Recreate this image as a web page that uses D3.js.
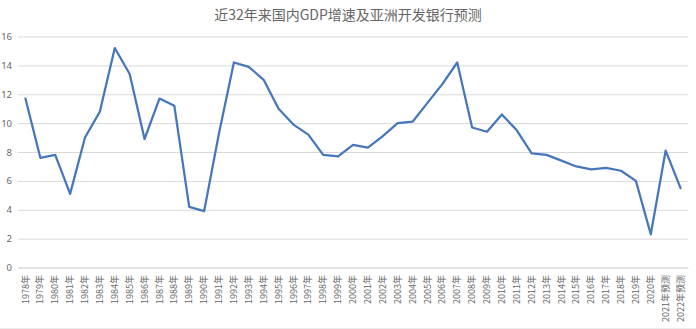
<!DOCTYPE html>
<html><head><meta charset="utf-8">
<script src="https://cdn.jsdelivr.net/npm/d3@7"></script>
<style>body{margin:0;background:#fff}svg{display:block}</style>
</head><body>
<svg id="c" width="696" height="329"></svg>
<script>
const title = "近32年来国内GDP增速及亚洲开发银行预测";
const categories = ["1978年","1979年","1980年","1981年","1982年","1983年","1984年","1985年","1986年","1987年","1988年","1989年","1990年","1991年","1992年","1993年","1994年","1995年","1996年","1997年","1998年","1999年","2000年","2001年","2002年","2003年","2004年","2005年","2006年","2007年","2008年","2009年","2010年","2011年","2012年","2013年","2014年","2015年","2016年","2017年","2018年","2019年","2020年","2021年预测","2022年预测"];
const gdpGrowth = [11.7,7.6,7.8,5.1,9.0,10.8,15.2,13.4,8.9,11.7,11.2,4.2,3.9,9.3,14.2,13.9,13.0,11.0,9.9,9.2,7.8,7.7,8.5,8.3,9.1,10.0,10.1,11.4,12.7,14.2,9.7,9.4,10.6,9.5,7.9,7.8,7.4,7.0,6.8,6.9,6.7,6.0,2.3,8.1,5.5];
const yTicks = [0,2,4,6,8,10,12,14,16];

const svg = d3.select("#c");
const pLeft = 18, pRight = 688, pTop = 36.5, pBottom = 267.5;
const x = d3.scaleBand().domain(categories).range([pLeft, pRight]);
const y = d3.scaleLinear().domain([0,16]).range([pBottom, pTop]);

svg.append("text").attr("x", 348).attr("y", 20).attr("text-anchor","middle")
  .attr("font-family","'Noto Sans CJK SC', sans-serif").attr("font-size",14).attr("fill","#666666").text(title);

const yAxis = d3.axisLeft(y).tickValues(yTicks).tickSize(-(pRight-pLeft)).tickPadding(6).tickFormat(d3.format("d"));
const gy = svg.append("g").attr("transform",`translate(${pLeft},0)`).call(yAxis);
gy.select(".domain").remove();
gy.selectAll(".tick line").attr("stroke","#d9d9d9").attr("stroke-width",1);
gy.selectAll(".tick text").attr("fill","#666666").attr("font-size",9.5).attr("font-family","'Noto Sans', sans-serif");

const xAxis = d3.axisBottom(x).tickSize(0).tickPadding(0);
const gx = svg.append("g").attr("transform",`translate(0,${pBottom})`).call(xAxis);
gx.select(".domain").attr("stroke","#d9d9d9").attr("stroke-width",1);
gx.selectAll(".tick text")
  .attr("fill","#666666").attr("font-size",9).attr("font-family","'Noto Sans CJK SC', sans-serif")
  .attr("transform","rotate(-90)").attr("text-anchor","end").attr("x",-7.5).attr("y",0).attr("dy","0.35em");

const line = d3.line().x((d,i)=>x(categories[i])+x.bandwidth()/2).y(d=>y(d));
svg.append("path").datum(gdpGrowth).attr("d",line).attr("fill","none")
  .attr("stroke","#4676BC").attr("stroke-width",2.25).attr("stroke-linejoin","round").attr("stroke-linecap","round");

svg.append("line").attr("x1",0).attr("x2",696).attr("y1",328.5).attr("y2",328.5).attr("stroke","#ececec");
</script>
</body></html>
